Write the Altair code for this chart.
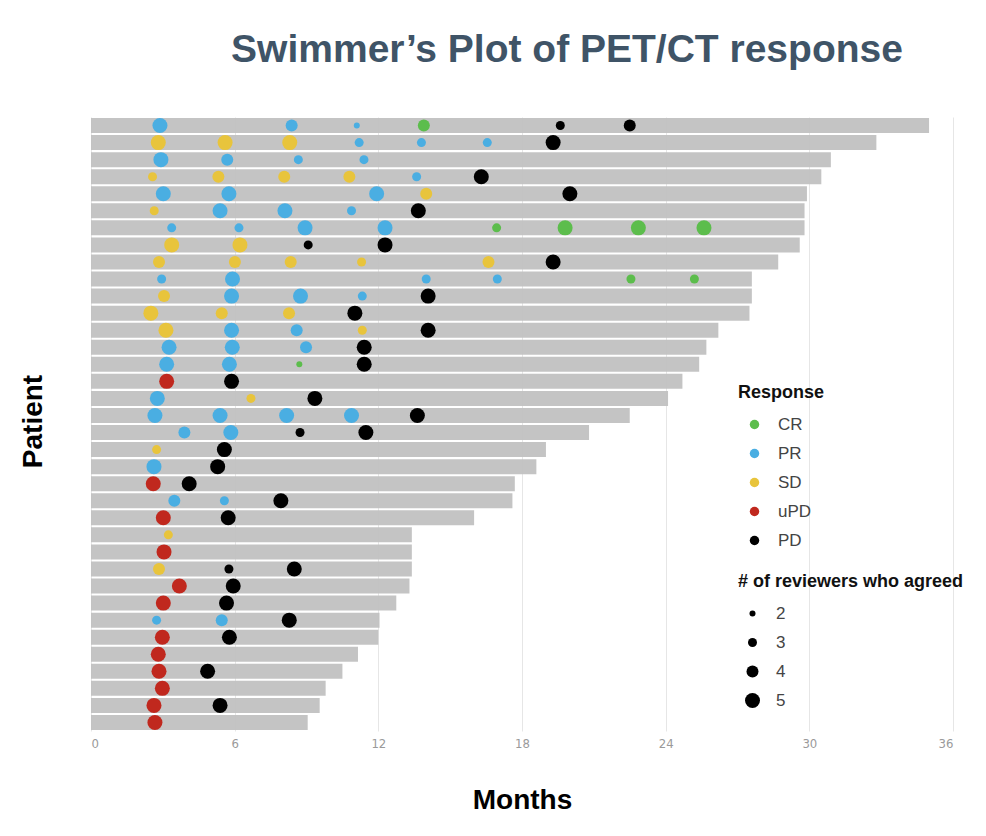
import altair as alt
import pandas as pd

# ---- data -------------------------------------------------------------
patients = list(range(1, 37))
bar_end = [35.0, 32.8, 30.9, 30.5, 29.9, 29.8, 29.8, 29.6, 28.7, 27.6, 27.6, 27.5,
           26.2, 25.7, 25.4, 24.7, 24.1, 22.5, 20.8, 19.0, 18.6, 17.7, 17.6, 16.0,
           13.4, 13.4, 13.4, 13.3, 12.75, 12.05, 12.0, 11.15, 10.5, 9.8, 9.55, 9.05]

ev_patient = [1, 1, 1, 1, 1, 1,
              2, 2, 2, 2, 2, 2, 2,
              3, 3, 3, 3,
              4, 4, 4, 4, 4, 4,
              5, 5, 5, 5, 5,
              6, 6, 6, 6, 6,
              7, 7, 7, 7, 7, 7, 7, 7,
              8, 8, 8, 8,
              9, 9, 9, 9, 9, 9,
              10, 10, 10, 10, 10, 10,
              11, 11, 11, 11, 11,
              12, 12, 12, 12,
              13, 13, 13, 13, 13,
              14, 14, 14, 14,
              15, 15, 15, 15,
              16, 16,
              17, 17, 17,
              18, 18, 18, 18, 18,
              19, 19, 19, 19,
              20, 20,
              21, 21,
              22, 22,
              23, 23, 23,
              24, 24,
              25,
              26,
              27, 27, 27,
              28, 28,
              29, 29,
              30, 30, 30,
              31, 31,
              32,
              33, 33,
              34,
              35, 35,
              36]
ev_month = [2.88, 8.38, 11.1, 13.9, 19.6, 22.5,
            2.81, 5.6, 8.3, 11.2, 13.8, 16.55, 19.3,
            2.92, 5.69, 8.66, 11.4,
            2.57, 5.32, 8.07, 10.79, 13.6, 16.3,
            3.02, 5.76, 11.93, 14.0, 20.0,
            2.64, 5.39, 8.1, 10.88, 13.67,
            3.37, 6.18, 8.94, 12.28, 16.94, 19.8, 22.86, 25.6,
            3.37, 6.22, 9.07, 12.28,
            2.84, 6.01, 8.34, 11.3, 16.6, 19.3,
            2.95, 5.91, 14.0, 16.97, 22.55, 25.2,
            3.05, 5.87, 8.75, 11.33, 14.08,
            2.5, 5.46, 8.27, 11.02,
            3.13, 5.87, 8.59, 11.33, 14.08,
            3.26, 5.9, 8.98, 11.41,
            3.16, 5.78, 8.7, 11.41,
            3.16, 5.87,
            2.77, 6.68, 9.35,
            2.67, 5.39, 8.17, 10.88, 13.63,
            3.9, 5.84, 8.73, 11.48,
            2.74, 5.57,
            2.63, 5.29,
            2.6, 4.1,
            3.48, 5.57, 7.93,
            3.02, 5.73,
            3.23,
            3.05,
            2.84, 5.76, 8.49,
            3.69, 5.94,
            3.02, 5.66,
            2.74, 5.46, 8.28,
            2.98, 5.78,
            2.81,
            2.84, 4.87,
            2.98,
            2.63, 5.39,
            2.67]
ev_response = ["PR", "PR", "PR", "CR", "PD", "PD",
               "SD", "SD", "SD", "PR", "PR", "PR", "PD",
               "PR", "PR", "PR", "PR",
               "SD", "SD", "SD", "SD", "PR", "PD",
               "PR", "PR", "PR", "SD", "PD",
               "SD", "PR", "PR", "PR", "PD",
               "PR", "PR", "PR", "PR", "CR", "CR", "CR", "CR",
               "SD", "SD", "PD", "PD",
               "SD", "SD", "SD", "SD", "SD", "PD",
               "PR", "PR", "PR", "PR", "CR", "CR",
               "SD", "PR", "PR", "PR", "PD",
               "SD", "SD", "SD", "PD",
               "SD", "PR", "PR", "SD", "PD",
               "PR", "PR", "PR", "PD",
               "PR", "PR", "CR", "PD",
               "uPD", "PD",
               "PR", "SD", "PD",
               "PR", "PR", "PR", "PR", "PD",
               "PR", "PR", "PD", "PD",
               "SD", "PD",
               "PR", "PD",
               "uPD", "PD",
               "PR", "PR", "PD",
               "uPD", "PD",
               "SD",
               "uPD",
               "SD", "PD", "PD",
               "uPD", "PD",
               "uPD", "PD",
               "PR", "PR", "PD",
               "uPD", "PD",
               "uPD",
               "uPD", "PD",
               "uPD",
               "uPD", "PD",
               "uPD"]
ev_reviewers = [5, 4, 2, 4, 3, 4,
                5, 5, 5, 3, 3, 3, 5,
                5, 4, 3, 3,
                3, 4, 4, 4, 3, 5,
                5, 5, 5, 4, 5,
                3, 5, 5, 3, 5,
                3, 3, 5, 5, 3, 5, 5, 5,
                5, 5, 3, 5,
                4, 4, 4, 3, 4, 5,
                3, 5, 3, 3, 3, 3,
                4, 5, 5, 3, 5,
                5, 4, 4, 5,
                5, 5, 4, 3, 5,
                5, 5, 4, 5,
                5, 5, 2, 5,
                5, 5,
                5, 3, 5,
                5, 5, 5, 5, 5,
                4, 5, 3, 5,
                3, 5,
                5, 5,
                5, 5,
                4, 3, 5,
                5, 5,
                3,
                5,
                4, 3, 5,
                5, 5,
                5, 5,
                3, 4, 5,
                5, 5,
                5,
                5, 5,
                5,
                5, 5,
                5]

response_order = ["CR", "PR", "SD", "uPD", "PD"]
response_colors = ["#5cbd4c", "#4aaee2", "#e8c43c", "#c0281e", "#000000"]
reviewer_levels = [2, 3, 4, 5]
x_ticks = [0, 6, 12, 18, 24, 30, 36]

bars_df = pd.DataFrame({"patient": patients, "start": [0] * len(patients), "end": bar_end})
ev_df = pd.DataFrame({"patient": ev_patient, "month": ev_month,
                      "response": ev_response, "reviewers": ev_reviewers})

FONT = "Liberation Sans, Arial, sans-serif"

y_enc = alt.Y("patient:O", sort=patients,
              scale=alt.Scale(paddingInner=0.12, paddingOuter=0.06),
              axis=alt.Axis(labels=False, ticks=False, domain=False, grid=False,
                            title="Patient", titleFontSize=28, titleFont=FONT,
                            titleFontWeight="bold", titleColor="#000000",
                            titleX=-58, titleY=304, titleAlign="center",
                            titleBaseline="middle", titleAngle=-90))

x_scale = alt.Scale(domain=[0, 36], nice=False, zero=True)
x_axis = alt.Axis(values=x_ticks, grid=True, gridColor="#e6e6e6", gridWidth=1,
                  ticks=False, domain=False, labelFontSize=13,
                  labelFont="Liberation Sans Narrow, Arial Narrow, DejaVu Sans Condensed, sans-serif",
                  labelColor="#9a9a9a", labelPadding=6,
                  title="Months", titleFontSize=28, titleFont=FONT, titleFontWeight="bold",
                  titleColor="#000000", titleX=431, titleY=69, titleAlign="center",
                  titleBaseline="middle")

bars = alt.Chart(bars_df).mark_bar(color="#bfbfbf", opacity=0.93).encode(
    x=alt.X("start:Q", scale=x_scale, axis=x_axis),
    x2="end:Q",
    y=y_enc,
)

points = alt.Chart(ev_df).mark_circle(opacity=1, strokeWidth=0).encode(
    x=alt.X("month:Q", scale=x_scale),
    y=alt.Y("patient:O", sort=patients),
    color=alt.Color("response:N",
                    scale=alt.Scale(domain=response_order, range=response_colors),
                    legend=alt.Legend(title="Response", orient="none", legendX=647, legendY=267,
                                      titleFontSize=18, titleFont=FONT, titleFontWeight="bold",
                                      titleColor="#111111", titlePadding=14,
                                      labelFontSize=17, labelFont=FONT, labelColor="#444444",
                                      labelOffset=15, symbolOffset=8, symbolSize=90,
                                      symbolType="circle", rowPadding=11, padding=0,
                                      symbolStrokeWidth=0)),
    size=alt.Size("reviewers:Q",
                  scale=alt.Scale(type="pow", exponent=2, domain=[0, 5], range=[0, 225]),
                  legend=alt.Legend(title="# of reviewers who agreed", orient="none",
                                    legendX=647, legendY=456, values=reviewer_levels,
                                    titleFontSize=18, titleFont=FONT, titleFontWeight="bold",
                                    titleColor="#111111", titlePadding=14, titleLimit=400,
                                    labelFontSize=17, labelFont=FONT, labelColor="#444444",
                                    labelOffset=15, symbolOffset=6, symbolType="circle",
                                    symbolFillColor="#000000", symbolStrokeWidth=0,
                                    rowPadding=11, padding=0)),
)

chart = alt.layer(bars, points).properties(
    width=862, height=614,
    title=alt.TitleParams("Swimmer\u2019s Plot of PET/CT response", fontSize=39, font=FONT,
                          fontWeight="bold", color="#3f5467", anchor="middle", dx=45,
                          offset=16, baseline="alphabetic"),
    autosize=alt.AutoSizeParams(type="none"),
    padding={"left": 91, "top": 117, "right": 33, "bottom": 105},
    background="#ffffff",
).configure_view(stroke=None)

chart.save("out.html", embed_options={"renderer": "svg", "actions": False})
